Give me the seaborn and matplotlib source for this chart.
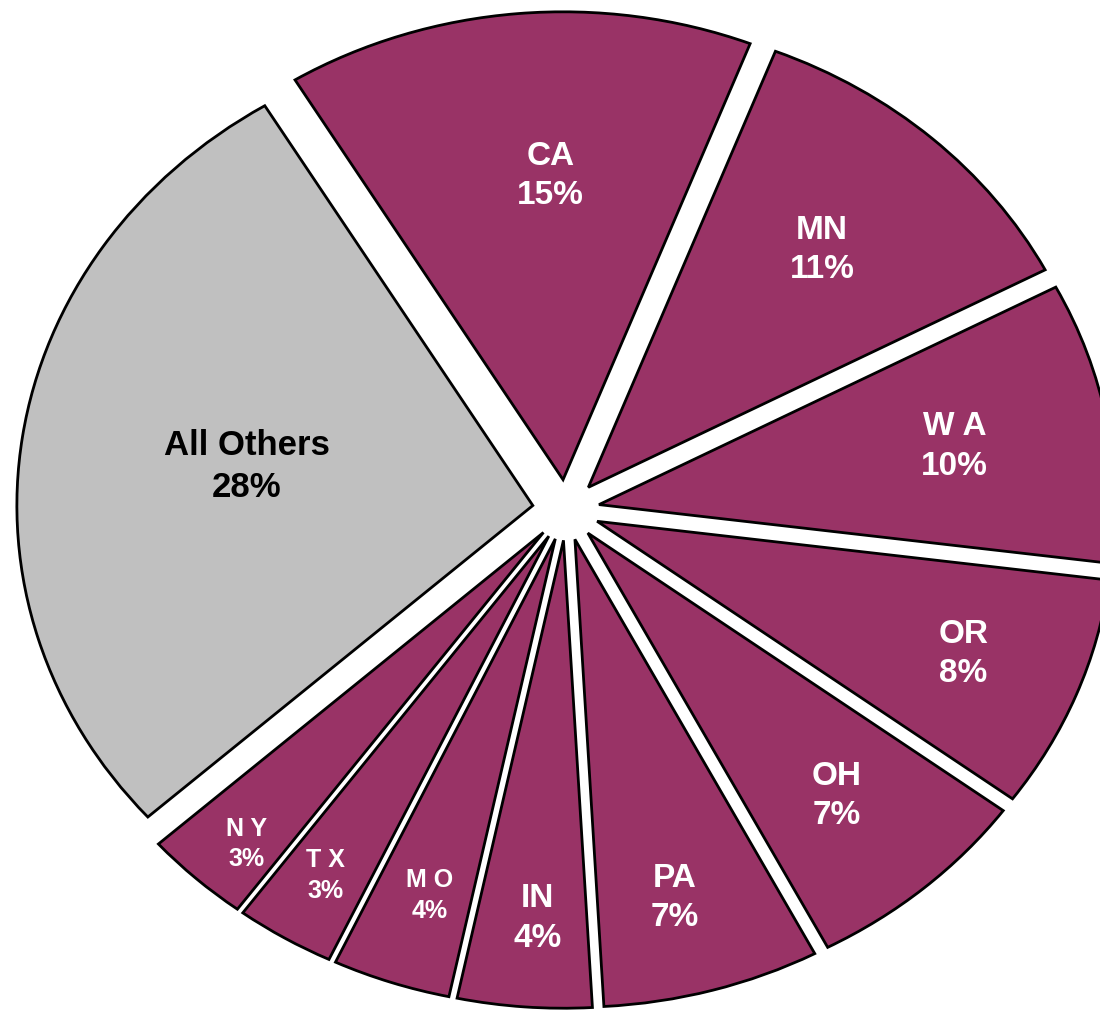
import matplotlib
matplotlib.use("Agg")
import matplotlib.pyplot as plt
import numpy as np
import seaborn as sns

# data (slice sizes, labels as printed)
states = ["CA", "MN", "WA", "OR", "OH", "PA", "IN", "MO", "TX", "NY", "All Others"]
shares = [14.6, 11.4, 9.7, 8.1, 7.2, 6.8, 4.2, 3.7, 3.1, 3.3, 27.9]
label_pct = [15, 11, 10, 8, 7, 7, 4, 4, 3, 3, 28]
label_names = ["CA", "MN", "W A", "OR", "OH", "PA", "IN", "M O", "T X", "N Y", "All Others"]

# label placement: fraction of radius, angle nudge (deg) and size per slice
label_radius = [0.65, 0.68, 0.70, 0.765, 0.74, 0.79, 0.81, 0.80, 0.845, 0.88, 0.56]
label_shift = [-2.9, 0, 0, 0, 0, -1.3, 0.8, 0.8, 0, 1.5, 0]
label_size = [24, 24, 24, 24, 24, 24, 24, 18, 18, 18, 25]

plum = "#993366"
grey = "#C0C0C0"
colors = [plum] * 10 + [grey]
text_colors = ["white"] * 10 + ["black"]

sns.set_style("white")
plt.rcParams["font.family"] = ["Liberation Sans", "DejaVu Sans"]

fig = plt.figure(figsize=(11, 10.13), dpi=100)
ax = fig.add_axes([0, 0, 1, 1])

explode = [0.065] * len(shares)
wedges, _ = ax.pie(
    shares,
    colors=colors,
    startangle=121.3,
    counterclock=False,
    explode=explode,
    wedgeprops=dict(edgecolor="black", linewidth=2),
)

for w, name, pct, r, sh, fs, tc in zip(
    wedges, label_names, label_pct, label_radius, label_shift, label_size, text_colors
):
    mid = np.deg2rad((w.theta1 + w.theta2) / 2 + sh)
    cx, cy = w.center
    ax.text(
        cx + r * np.cos(mid),
        cy + r * np.sin(mid),
        f"{name}\n{pct}%",
        ha="center",
        va="center",
        color=tc,
        fontsize=fs,
        fontweight="bold",
        linespacing=1.35,
    )

ax.set_aspect("auto")
ax.set_xlim(-1.097, 1.035)
ax.set_ylim(-1.075, 1.090)
ax.axis("off")

fig.savefig("out.png", dpi=100)
